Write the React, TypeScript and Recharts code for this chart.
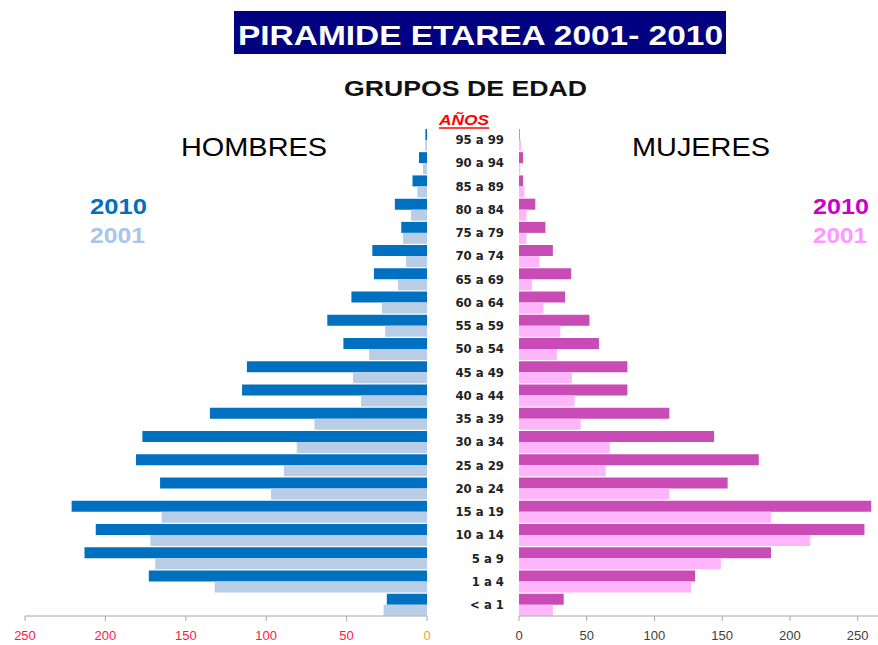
import React from 'react';
import { BarChart, Bar, XAxis, YAxis } from 'recharts';

const AGES = [
  '95 a 99', '90 a 94', '85 a 89', '80 a 84', '75 a 79', '70 a 74', '65 a 69',
  '60 a 64', '55 a 59', '50 a 54', '45 a 49', '40 a 44', '35 a 39', '30 a 34',
  '25 a 29', '20 a 24', '15 a 19', '10 a 14', '5 a 9', '1 a 4', '< a 1',
];
const MEN_2010 = [1, 5, 9, 20, 16, 34, 33, 47, 62, 52, 112, 115, 135, 177, 181, 166, 221, 206, 213, 173, 25];
const MEN_2001 = [1, 2.5, 6, 10, 15, 13, 18, 28, 26, 36, 46, 41, 70, 81, 89, 97, 165, 172, 169, 132, 27];
const WOMEN_2010 = [0.5, 3, 3, 12, 19.5, 25, 38.5, 34, 52, 59, 80, 80, 111, 144, 177, 154, 260, 255, 186, 130, 33];
const WOMEN_2001 = [1.5, 1, 4, 5.5, 5.5, 15, 9.5, 18, 30.5, 28, 39, 41, 45.5, 67, 64, 111, 186, 215, 149, 127, 25];
const TICKS = [0, 50, 100, 150, 200, 250];

const BLUE = '#0070C0';
const BLUE_LIGHT = '#B9CDE7';
const PINK = '#C94BB6';
const PINK_LIGHT = '#FFB5FA';
const AXIS = '#A6A6A6';

const men = AGES.map((age, i) => ({ age, y2010: MEN_2010[i], y2001: MEN_2001[i] }));
const women = AGES.map((age, i) => ({ age, y2010: WOMEN_2010[i], y2001: WOMEN_2001[i] }));

const LeftTick = (props: any) => {
  const { x, y, payload } = props;
  const v = payload?.value;
  return (
    <text x={x} y={y} dy="0.71em" textAnchor="middle" fontSize={13} fontFamily="'Liberation Sans', Arial, sans-serif"
      fill={v === 0 ? '#EFA22E' : '#FF1744'}>
      {v}
    </text>
  );
};

const RightTick = (props: any) => {
  const { x, y, payload } = props;
  return (
    <text x={x} y={y} dy="0.71em" textAnchor="middle" fontSize={13} fontFamily="'Liberation Sans', Arial, sans-serif" fill="#404040">
      {payload?.value}
    </text>
  );
};

const Label = ({ x, y, w, size, fill, children, bold = true, italic = false }: any) => (
  <text x={x} y={y} fontSize={size} fill={fill} fontWeight={bold ? 'bold' : 'normal'} fontStyle={italic ? 'italic' : 'normal'}
    textLength={w} lengthAdjust="spacingAndGlyphs" fontFamily="'Liberation Sans', Arial, sans-serif">
    {children}
  </text>
);

export default function App() {
  return (
    <div style={{ position: 'absolute', left: 0, top: 0, width: 878, height: 645, background: '#fff', overflow: 'hidden' }}>
      <div style={{ position: 'absolute', left: 0, top: 0 }}>
        <BarChart width={440} height={645} data={men} layout="vertical" barGap={0} barCategoryGap="4%"
          margin={{ top: 128, right: 13, bottom: 0, left: 25 }}>
          <XAxis type="number" domain={[0, 250]} ticks={TICKS} reversed height={29} tickSize={5} tickMargin={10}
            stroke={AXIS} tick={<LeftTick />} />
          <YAxis type="category" dataKey="age" hide />
          <Bar dataKey="y2010" fill={BLUE} isAnimationActive={false} />
          <Bar dataKey="y2001" fill={BLUE_LIGHT} isAnimationActive={false} />
        </BarChart>
      </div>
      <div style={{ position: 'absolute', left: 440, top: 0 }}>
        <BarChart width={438} height={645} data={women} layout="vertical" barGap={0} barCategoryGap="4%"
          margin={{ top: 128, right: 0, bottom: 0, left: 0 }}>
          <XAxis type="number" domain={[0, 265]} ticks={TICKS} height={29} tickSize={5} tickMargin={10}
            stroke={AXIS} tick={<RightTick />} />
          <YAxis type="category" dataKey="age" width={79} axisLine={false} tickLine={false} tickSize={0} tickMargin={15}
            interval={0}
            tick={{ fontSize: 13, fontWeight: 'bold', fill: '#222', fontFamily: "'Liberation Sans Narrow', 'DejaVu Sans Condensed', sans-serif" }} />
          <Bar dataKey="y2010" fill={PINK} isAnimationActive={false} />
          <Bar dataKey="y2001" fill={PINK_LIGHT} isAnimationActive={false} />
        </BarChart>
      </div>
      <svg width={878} height={645} style={{ position: 'absolute', left: 0, top: 0, pointerEvents: 'none' }}>
        <rect x={234} y={11} width={492} height={43} fill="#000080" />
        <Label x={238} y={45} w={485} size={28} fill="#fff">PIRAMIDE ETAREA 2001- 2010</Label>
        <Label x={344} y={96} w={243} size={22} fill="#111">GRUPOS DE EDAD</Label>
        <Label x={439} y={125} w={50} size={14} fill="#FF0000" italic>AÑOS</Label>
        <line x1={439} x2={489} y1={128} y2={128} stroke="#FF0000" strokeWidth={1.5} />
        <Label x={181} y={156} w={146} size={25} fill="#000" bold={false}>HOMBRES</Label>
        <Label x={632} y={156} w={138} size={25} fill="#000" bold={false}>MUJERES</Label>
        <Label x={90} y={214} w={57} size={22} fill={BLUE}>2010</Label>
        <Label x={90} y={243} w={55} size={22} fill="#A9C5EB">2001</Label>
        <Label x={813} y={214} w={56} size={22} fill="#CC00CC">2010</Label>
        <Label x={813} y={243} w={54} size={22} fill="#FF99FF">2001</Label>
      </svg>
    </div>
  );
}
